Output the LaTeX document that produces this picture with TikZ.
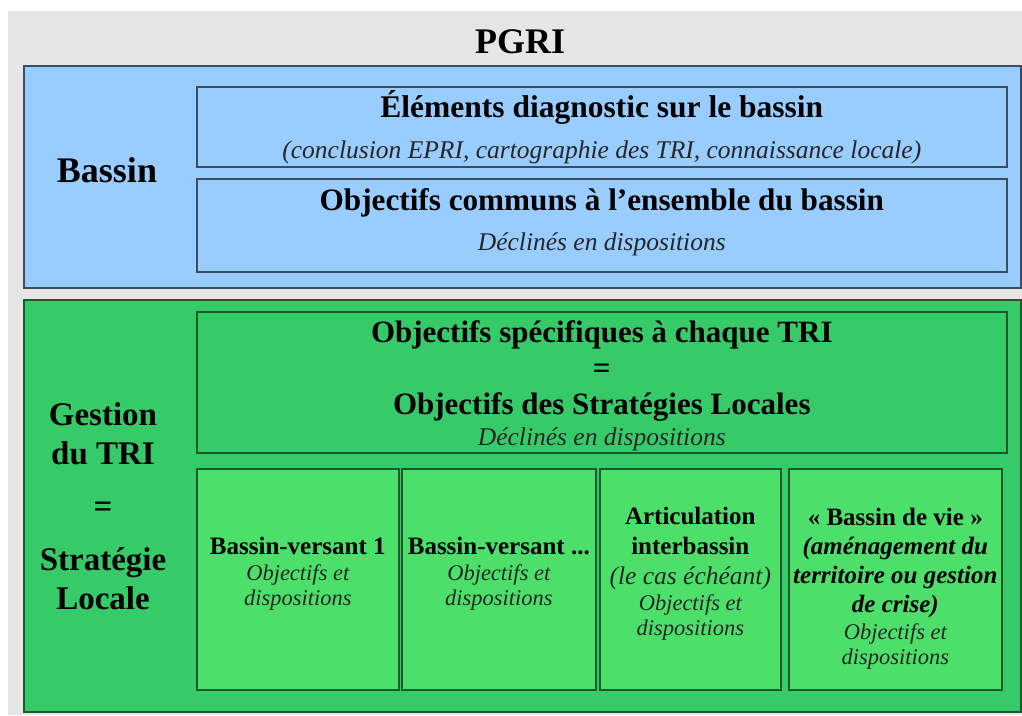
\documentclass[tikz,border=0pt]{standalone}
\usepackage{fontspec}
\setmainfont{Liberation Serif}
\usetikzlibrary{positioning}

\definecolor{bggray}{HTML}{E6E6E6}
\definecolor{bassinblue}{HTML}{99CCFF}
\definecolor{blueline}{HTML}{3E4B5A}
\definecolor{trigreen}{HTML}{36CB68}
\definecolor{bvgreen}{HTML}{4CDF6A}
\definecolor{greenline}{HTML}{1C5A2C}

\newcommand\fsz[2]{\fontsize{#1}{#2}\selectfont}
\newcommand\sub[1]{{\fsz{25.5}{30}\mdseries\itshape\color{black!85}#1}}
\newcommand\od[1]{{\fsz{22.5}{26}\mdseries\itshape\color{black!85}#1}}
\newcommand\objdisp{\od{Objectifs et}\\[-3pt]\od{dispositions}}

\tikzset{
  frame/.style={draw=#1, line width=1.6pt, inner sep=0pt, anchor=north west, align=center},
  bluebox/.style={frame=blueline, fill=bassinblue},
  tribox/.style={frame=greenline, fill=trigreen},
  bvbox/.style={frame=greenline, fill=bvgreen, minimum height=221pt, font=\fsz{25}{28}\bfseries},
  title/.style={font=\fsz{36}{40}\bfseries, align=center}
}

\begin{document}
\begin{tikzpicture}[x=1pt,y=-1pt]
\useasboundingbox (0,0) rectangle (1022,715);
\fill[bggray] (8,11) rectangle (1022,715);

\node [title] (pgri) at (520,42) {PGRI};

% Bassin
\node [bluebox, minimum width=997pt, minimum height=222pt] (bassin) at (23,65) {};
\node [title] (bassinlbl) at (107,170) {Bassin};
\node [bluebox, minimum width=810pt, minimum height=80pt, font=\fsz{31.5}{41}] (diag) at (196,86)
  {\bfseries Éléments diagnostic sur le bassin\\\sub{(conclusion EPRI, cartographie des TRI, connaissance locale)}};
\node [bluebox, minimum width=810pt, minimum height=93pt, font=\fsz{31.2}{40}] (communs) at (196,178)
  {\bfseries Objectifs communs à l’ensemble du bassin\\\sub{Déclinés en dispositions}\\[-28pt]{}};

% Gestion du TRI
\node [tribox, minimum width=997pt, minimum height=412pt] (gestion) at (23,299) {};
\node [title, font=\fsz{33}{39}\bfseries] (gestionlbl) at (103,506)
  {Gestion\\du TRI\\[14pt]=\\[14pt]Stratégie\\Locale};
\node [tribox, minimum width=810pt, minimum height=141pt, font=\fsz{31}{36}] (specif) at (196,311)
  {{}\\[-7pt]\bfseries Objectifs spécifiques à chaque TRI\\\bfseries =\\\bfseries Objectifs des Stratégies Locales\\[-5pt]\sub{Déclinés en dispositions}};

\node [bvbox, minimum width=202pt] (bv1) at (196,468)
  {Bassin-versant 1\\[-2pt]\objdisp\\[-13pt]{}};
\node [bvbox, minimum width=194pt] (bv2) at (401,468)
  {Bassin-versant ...\\[-2pt]\objdisp\\[-13pt]{}};
\node [bvbox, minimum width=181pt] (inter) at (599,468)
  {Articulation\\[2pt]interbassin\\[2pt]\sub{(le cas échéant)}\\[-2pt]\objdisp\\[-13pt]{}};
\node [bvbox, minimum width=213pt] (vie) at (788,468)
  {\\[8pt]« Bassin de vie »\\[1pt]\itshape (aménagement du\\[1pt]\itshape territoire ou gestion\\[1pt]\itshape de crise)\\[-1pt]\objdisp};
\end{tikzpicture}
\end{document}
